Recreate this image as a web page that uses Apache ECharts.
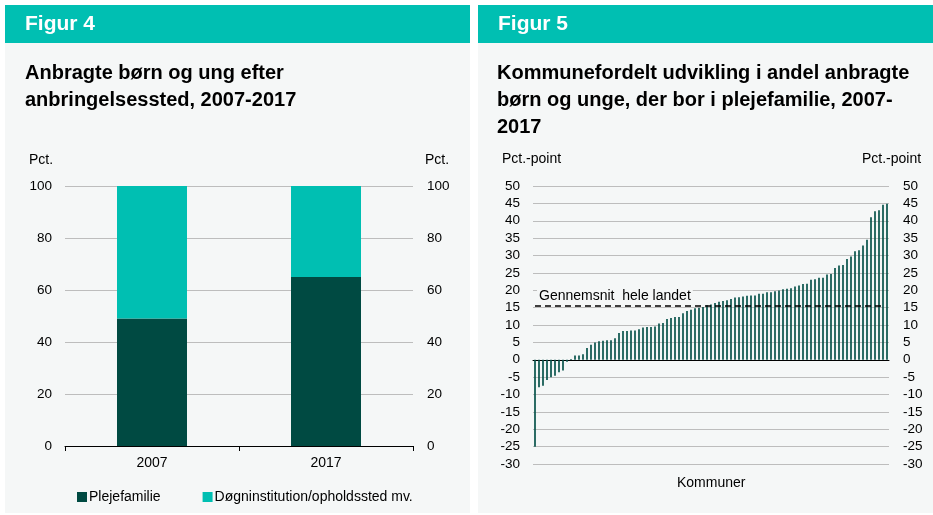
<!DOCTYPE html>
<html>
<head>
<meta charset="utf-8">
<script src="https://cdn.jsdelivr.net/npm/echarts@6/dist/echarts.min.js"></script>
<style>
  html, body { margin: 0; padding: 0; background: #fff; }
  #main { width: 933px; height: 515px; }
</style>
</head>
<body>
<div id="main"></div>
<script>
// Figur 4
var years = ['2007', '2017'];
var plejefamilie = [49, 65];
var doegninstitution = [51, 35];
var pctTicks = [0, 20, 40, 60, 80, 100];

// Figur 5 - one bar per kommune, sorted
var kommuneChange = [
  -25, -7.9, -7.5, -5.8, -5.0, -4.6, -3.6, -3.1, -0.6, 0.2,
  1.2, 1.2, 1.6, 3.4, 4.3, 5.0, 5.3, 5.5, 5.6, 5.6,
  6.2, 7.7, 8.3, 8.3, 8.4, 8.4, 8.8, 9.3, 9.4, 9.4,
  9.6, 10.4, 10.6, 11.7, 12.0, 12.3, 12.3, 13.4, 14.0, 14.4,
  14.8, 15.0, 15.2, 15.7, 15.9, 16.3, 16.7, 16.9, 17.1, 17.5,
  17.9, 18.0, 18.2, 18.4, 18.5, 18.5, 19.0, 19.0, 19.4, 19.4,
  19.7, 19.9, 20.3, 20.4, 20.6, 21.1, 21.4, 21.8, 21.9, 23.0,
  23.2, 23.6, 23.6, 24.5, 24.7, 26.4, 27.1, 27.3, 29.0, 29.7,
  31.2, 31.5, 32.9, 34.5, 41.0, 42.7, 43.0, 44.6, 44.9
];
var kommuner = kommuneChange.map(function (v, i) { return 'K' + (i + 1); });
var landsgennemsnit = 15.5;

var FONT = '"Liberation Sans", Arial, sans-serif';
var DARK = '#004a42';
var TEAL = '#00bfb2';
var PANEL = '#f5f7f7';
var GRIDLINE = '#bdbdbd';

var chart = echarts.init(document.getElementById('main'), null, { renderer: 'canvas' });

function valueAxis(gridIndex, pos, min, max, interval, margin) {
  return {
    type: 'value',
    gridIndex: gridIndex,
    position: pos,
    min: min,
    max: max,
    interval: interval,
    axisLine: { show: false },
    axisTick: { show: false },
    splitLine: { show: pos === 'left', lineStyle: { color: GRIDLINE, width: 1 } },
    axisLabel: { color: '#000', fontSize: 13.5, fontFamily: FONT, margin: margin }
  };
}

var option = {
  backgroundColor: '#ffffff',
  animation: false,
  textStyle: { fontFamily: FONT },
  graphic: [
    // panels
    { type: 'rect', shape: { x: 5, y: 43, width: 465, height: 470 }, style: { fill: PANEL }, z: -10 },
    { type: 'rect', shape: { x: 478, y: 43, width: 455, height: 470 }, style: { fill: PANEL }, z: -10 },
    { type: 'rect', shape: { x: 5, y: 5, width: 465, height: 38 }, style: { fill: TEAL }, z: -10 },
    { type: 'rect', shape: { x: 478, y: 5, width: 455, height: 38 }, style: { fill: TEAL }, z: -10 },
    { type: 'text', left: 25, top: 14, style: { text: 'Figur 4', fill: '#fff', font: 'bold 21px ' + FONT } },
    { type: 'text', left: 498, top: 14, style: { text: 'Figur 5', fill: '#fff', font: 'bold 21px ' + FONT } },
    { type: 'text', left: 25, top: 60, style: {
        text: 'Anbragte børn og ung efter\nanbringelsessted, 2007-2017',
        fill: '#000', font: 'bold 20px ' + FONT, lineHeight: 27 } },
    { type: 'text', left: 497, top: 60, style: {
        text: 'Kommunefordelt udvikling i andel anbragte\nbørn og unge, der bor i plejefamilie, 2007-\n2017',
        fill: '#000', font: 'bold 20px ' + FONT, lineHeight: 27 } },
    { type: 'text', left: 29, top: 153, style: { text: 'Pct.', fill: '#000', font: '14px ' + FONT } },
    { type: 'text', left: 425, top: 153, style: { text: 'Pct.', fill: '#000', font: '14px ' + FONT } },
    { type: 'text', left: 502, top: 152, style: { text: 'Pct.-point', fill: '#000', font: '14px ' + FONT } },
    { type: 'text', left: 862, top: 152, style: { text: 'Pct.-point', fill: '#000', font: '14px ' + FONT } },
    { type: 'text', left: 677, top: 476, style: { text: 'Kommuner', fill: '#000', font: '14px ' + FONT } }
  ],
  legend: {
    data: ['Plejefamilie', 'Døgninstitution/opholdssted mv.'],
    left: 72,
    top: 485,
    icon: 'rect',
    itemWidth: 10,
    itemHeight: 10,
    itemGap: 42,
    textStyle: { color: '#000', fontSize: 14, fontFamily: FONT, padding: [0, 0, 0, -3] }
  },
  grid: [
    { left: 65, top: 186, width: 348, height: 260 },
    { left: 533, top: 186, width: 356, height: 278 }
  ],
  xAxis: [
    {
      type: 'category',
      gridIndex: 0,
      data: years,
      axisLine: { lineStyle: { color: '#000', width: 1 } },
      axisTick: { show: true, length: 5, lineStyle: { color: '#000' } },
      axisLabel: { color: '#000', fontSize: 14, fontFamily: FONT, margin: 10 }
    },
    {
      type: 'category',
      gridIndex: 1,
      data: kommuner,
      axisLine: { onZero: true, lineStyle: { color: '#000', width: 1 } },
      axisTick: { show: false },
      axisLabel: { show: false }
    }
  ],
  yAxis: [
    valueAxis(0, 'left', pctTicks[0], pctTicks[pctTicks.length - 1], 20, 13),
    valueAxis(0, 'right', pctTicks[0], pctTicks[pctTicks.length - 1], 20, 14),
    valueAxis(1, 'left', -30, 50, 5, 13),
    valueAxis(1, 'right', -30, 50, 5, 14)
  ],
  series: [
    {
      name: 'Plejefamilie',
      type: 'bar',
      stack: 'a',
      xAxisIndex: 0,
      yAxisIndex: 0,
      barWidth: 70,
      itemStyle: { color: DARK },
      data: plejefamilie
    },
    {
      name: 'Døgninstitution/opholdssted mv.',
      type: 'bar',
      stack: 'a',
      xAxisIndex: 0,
      yAxisIndex: 0,
      barWidth: 70,
      itemStyle: { color: TEAL },
      data: doegninstitution
    },
    {
      name: 'Kommuner',
      type: 'bar',
      xAxisIndex: 1,
      yAxisIndex: 2,
      barWidth: 1.7,
      itemStyle: { color: '#08534b' },
      data: kommuneChange,
      markLine: {
        silent: true,
        symbol: 'none',
        lineStyle: { color: '#000', type: [6, 4], width: 1.6 },
        label: {
          show: true,
          position: 'insideStartTop',
          formatter: 'Gennemsnit  hele landet',
          color: '#000',
          fontSize: 14,
          fontFamily: FONT,
          backgroundColor: PANEL,
          padding: [0, 2, 0, 2],
          distance: [2, 3]
        },
        data: [[
          { coord: [0, landsgennemsnit] },
          { coord: [kommuneChange.length - 2, landsgennemsnit] }
        ]]
      }
    }
  ]
};

chart.setOption(option);
</script>
</body>
</html>
